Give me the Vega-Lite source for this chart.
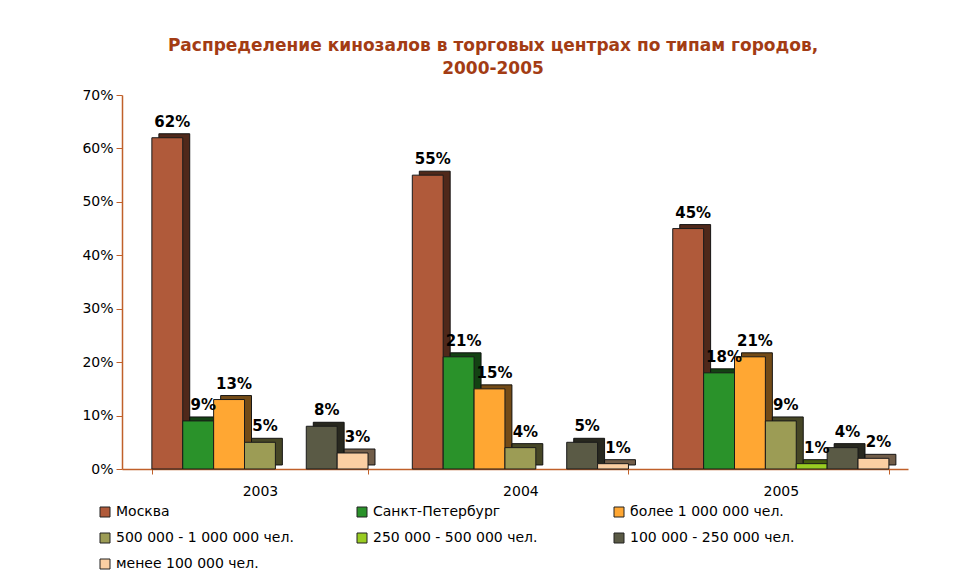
{
  "$schema": "https://vega.github.io/schema/vega-lite/v6.json",
  "width": 786,
  "height": 374,
  "autosize": {"type": "none"},
  "padding": {"left": 122, "top": 95, "right": 60, "bottom": 119},
  "background": "white",
  "title": {
    "text": ["Распределение кинозалов в торговых центрах по типам городов,", "2000-2005"],
    "font": "DejaVu Sans",
    "fontSize": 17,
    "fontWeight": "bold",
    "color": "#a33c14",
    "anchor": "middle",
    "dx": -22,
    "offset": 10,
    "lineHeight": 23
  },
  "data": {
    "values": [
      {"year": "2003", "series": "Москва", "value": 0.62},
      {"year": "2003", "series": "Санкт-Петербург", "value": 0.09},
      {"year": "2003", "series": "более 1 000 000 чел.", "value": 0.13},
      {"year": "2003", "series": "500 000 - 1 000 000 чел.", "value": 0.05},
      {"year": "2003", "series": "100 000 - 250 000 чел.", "value": 0.08},
      {"year": "2003", "series": "менее 100 000 чел.", "value": 0.03},
      {"year": "2004", "series": "Москва", "value": 0.55},
      {"year": "2004", "series": "Санкт-Петербург", "value": 0.21},
      {"year": "2004", "series": "более 1 000 000 чел.", "value": 0.15},
      {"year": "2004", "series": "500 000 - 1 000 000 чел.", "value": 0.04},
      {"year": "2004", "series": "100 000 - 250 000 чел.", "value": 0.05},
      {"year": "2004", "series": "менее 100 000 чел.", "value": 0.01},
      {"year": "2005", "series": "Москва", "value": 0.45},
      {"year": "2005", "series": "Санкт-Петербург", "value": 0.18},
      {"year": "2005", "series": "более 1 000 000 чел.", "value": 0.21},
      {"year": "2005", "series": "500 000 - 1 000 000 чел.", "value": 0.09},
      {"year": "2005", "series": "250 000 - 500 000 чел.", "value": 0.01},
      {"year": "2005", "series": "100 000 - 250 000 чел.", "value": 0.04},
      {"year": "2005", "series": "менее 100 000 чел.", "value": 0.02}
    ]
  },
  "config": {
    "view": {"stroke": null},
    "font": "DejaVu Sans",
    "axis": {
      "labelFont": "DejaVu Sans",
      "labelFontSize": 14,
      "labelColor": "#000000",
      "domainColor": "#c0602a",
      "tickColor": "#c0602a",
      "grid": false,
      "title": null
    }
  },
  "layer": [
    {
      "mark": {"type": "bar", "yOffset": -4, "stroke": "#222222", "strokeWidth": 1},
      "encoding": {
        "x": {"field": "year", "type": "nominal", "scale": {"range": [7, 793], "paddingInner": 0.17, "paddingOuter": 0.094, "align": 0.61}, "axis": null},
        "xOffset": {"field": "series", "type": "nominal", "sort": null, "scale": {"domain": ["Москва", "Санкт-Петербург", "более 1 000 000 чел.", "500 000 - 1 000 000 чел.", "250 000 - 500 000 чел.", "100 000 - 250 000 чел.", "менее 100 000 чел."]}},
        "y": {"field": "value", "type": "quantitative", "scale": {"domain": [0, 0.7]}},
        "color": {"field": "series", "type": "nominal", "sort": null, "scale": {"domain": ["Москва", "Санкт-Петербург", "более 1 000 000 чел.", "500 000 - 1 000 000 чел.", "250 000 - 500 000 чел.", "100 000 - 250 000 чел.", "менее 100 000 чел."], "range": ["#b05a3a", "#2a922a", "#ffa733", "#9c9c55", "#99cc22", "#5a5a45", "#fbcfa3"]}}
      }
    },
    {
      "mark": {"type": "bar", "yOffset": -4, "color": "#000000", "opacity": 0.55},
      "encoding": {
        "x": {"field": "year", "type": "nominal", "scale": {"range": [7, 793], "paddingInner": 0.17, "paddingOuter": 0.094, "align": 0.61}, "axis": null},
        "xOffset": {"field": "series", "type": "nominal", "sort": null, "scale": {"domain": ["Москва", "Санкт-Петербург", "более 1 000 000 чел.", "500 000 - 1 000 000 чел.", "250 000 - 500 000 чел.", "100 000 - 250 000 чел.", "менее 100 000 чел."]}},
        "y": {"field": "value", "type": "quantitative", "scale": {"domain": [0, 0.7]}}
      }
    },
    {
      "mark": {"type": "bar", "stroke": "#1a1a1a", "strokeWidth": 1},
      "encoding": {
        "x": {"field": "year", "type": "nominal", "scale": {"paddingInner": 0.17, "paddingOuter": 0.094, "align": 0.61}, "axis": {"labelAngle": 0, "tickBand": "extent", "tickSize": 5, "labelPadding": 10, "domainWidth": 1.5}},
        "xOffset": {"field": "series", "type": "nominal", "sort": null, "scale": {"domain": ["Москва", "Санкт-Петербург", "более 1 000 000 чел.", "500 000 - 1 000 000 чел.", "250 000 - 500 000 чел.", "100 000 - 250 000 чел.", "менее 100 000 чел."]}},
        "y": {"field": "value", "type": "quantitative", "scale": {"domain": [0, 0.7]}, "axis": {"values": [0, 0.1, 0.2, 0.3, 0.4, 0.5, 0.6, 0.7], "format": ".0%", "tickSize": 6, "labelPadding": 3, "domainWidth": 1.5, "labelFontSize": 14}},
        "color": {
          "field": "series", "type": "nominal", "sort": null,
          "legend": {
            "orient": "none", "legendX": -24, "legendY": 410, "columns": 3, "direction": "horizontal",
            "symbolType": "square", "symbolSize": 100, "symbolStrokeColor": "#333333", "symbolStrokeWidth": 1,
            "labelFont": "DejaVu Sans", "labelFontSize": 14, "labelColor": "#000000", "labelLimit": 400,
            "columnPadding": 61, "rowPadding": 12, "gridAlign": "all", "title": null
          }
        }
      }
    },
    {
      "mark": {"type": "text", "font": "DejaVu Sans", "fontSize": 15, "fontWeight": "bold", "color": "#000000", "baseline": "bottom", "dx": 5, "dy": -8},
      "encoding": {
        "x": {"field": "year", "type": "nominal", "scale": {"paddingInner": 0.17, "paddingOuter": 0.094, "align": 0.61}, "axis": null},
        "xOffset": {"field": "series", "type": "nominal", "sort": null, "scale": {"domain": ["Москва", "Санкт-Петербург", "более 1 000 000 чел.", "500 000 - 1 000 000 чел.", "250 000 - 500 000 чел.", "100 000 - 250 000 чел.", "менее 100 000 чел."]}},
        "y": {"field": "value", "type": "quantitative", "scale": {"domain": [0, 0.7]}},
        "text": {"field": "value", "type": "quantitative", "format": ".0%"}
      }
    }
  ],
  "resolve": {"scale": {"x": "independent"}}
}
